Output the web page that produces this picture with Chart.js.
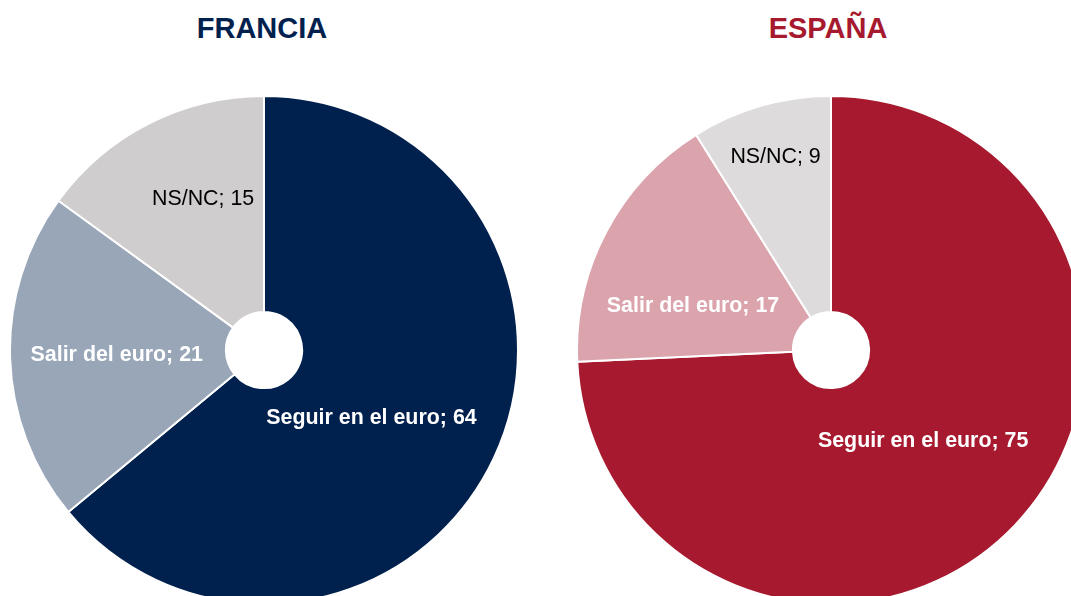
<!DOCTYPE html>
<html>
<head>
<meta charset="utf-8">
<script src="https://cdn.jsdelivr.net/npm/chart.js@4"></script>
<style>
  html, body { margin: 0; padding: 0; background: #fff; }
  body { width: 1071px; height: 596px; overflow: hidden; position: relative; font-family: "Liberation Sans", Arial, sans-serif; }
  .title { position: absolute; top: 10px; width: 300px; text-align: center; font-weight: bold; font-size: 29px; line-height: 36px; }
  .pie { position: absolute; width: 510px; height: 510px; }
</style>
</head>
<body>
<div class="title" style="left:112px; color:#00214E">FRANCIA</div>
<div class="title" style="left:678px; color:#A6192E">ESPAÑA</div>
<div class="pie" style="left:9px; top:95px"><canvas id="francia" width="510" height="510"></canvas></div>
<div class="pie" style="left:576px; top:95px"><canvas id="espana" width="510" height="510"></canvas></div>
<script>
const labels = ['Seguir en el euro', 'Salir del euro', 'NS/NC'];
const franciaValues = [64, 21, 15];
const espanaValues = [75, 17, 9];

const franciaColors = ['#00214E', '#98A6B8', '#D0CDCE'];
const espanaColors = ['#A6192E', '#DBA4AD', '#DEDBDD'];
const textColors = ['#FFFFFF', '#FFFFFF', '#000000'];
const textWeights = ['bold', 'bold', 'normal'];

// label placement: fraction of radius, angle shift in degrees
const franciaLabelPos = [[0.5, 7], [0.58, 0], [0.64, 5]];
const espanaLabelPos = [[0.51, 1], [0.57, -10], [0.79, 0]];

const sliceLabels = {
  id: 'sliceLabels',
  afterDatasetsDraw(chart, args, opts) {
    const ctx = chart.ctx;
    const meta = chart.getDatasetMeta(0);
    const values = chart.data.datasets[0].data;
    ctx.save();
    ctx.textAlign = 'center';
    ctx.textBaseline = 'middle';
    meta.data.forEach((arc, i) => {
      const p = arc.getProps(['x', 'y', 'startAngle', 'endAngle', 'outerRadius'], true);
      const [frac, shift] = opts.pos[i];
      const mid = (p.startAngle + p.endAngle) / 2 + shift * Math.PI / 180;
      const r = p.outerRadius * frac;
      ctx.font = `${textWeights[i]} 21.4px "Liberation Sans", Arial, sans-serif`;
      ctx.fillStyle = textColors[i];
      ctx.fillText(`${chart.data.labels[i]}; ${values[i]}`, p.x + Math.cos(mid) * r, p.y + Math.sin(mid) * r);
    });
    ctx.restore();
  }
};

function makePie(id, values, colors, pos) {
  return new Chart(document.getElementById(id), {
    type: 'doughnut',
    data: {
      labels,
      datasets: [{
        data: values,
        backgroundColor: colors,
        borderColor: '#FFFFFF',
        borderWidth: 2,
        hoverOffset: 0,
      }]
    },
    options: {
      responsive: false,
      animation: false,
      cutout: '15%',
      layout: { padding: 0 },
      plugins: {
        legend: { display: false },
        tooltip: { enabled: false },
        sliceLabels: { pos },
      }
    },
    plugins: [sliceLabels]
  });
}

makePie('francia', franciaValues, franciaColors, franciaLabelPos);
makePie('espana', espanaValues, espanaColors, espanaLabelPos);
</script>
</body>
</html>
